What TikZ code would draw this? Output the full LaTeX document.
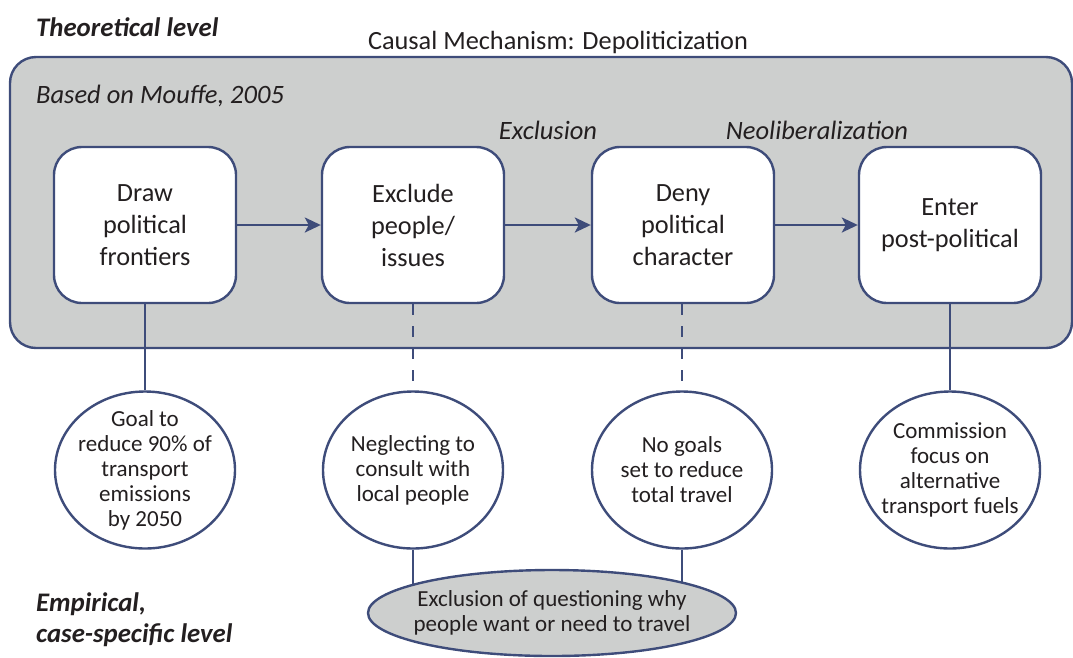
\documentclass[tikz,border=0pt]{standalone}
\usepackage{fontspec}
\setmainfont{Carlito}
\usetikzlibrary{shapes.geometric,arrows.meta}
\definecolor{navy}{RGB}{62,76,122}
\definecolor{panelgray}{RGB}{205,207,206}
\definecolor{ink}{RGB}{35,31,32}
\begin{document}
\begin{tikzpicture}[x=1pt,y=-1pt,
  every node/.style={text=ink},
  bigfont/.style={font=\fontsize{26.3}{32}\selectfont},
  smallfont/.style={font=\fontsize{23}{25}\selectfont},
  panelbox/.style={draw=navy,line width=2.4pt,fill=panelgray,rounded corners=26pt,minimum width=1062pt,minimum height=291pt,inner sep=0pt},
  stepbox/.style={draw=navy,line width=2.4pt,fill=white,rounded corners=28pt,minimum width=182pt,minimum height=156pt,align=center,inner sep=0pt,bigfont},
  casebubble/.style={ellipse,draw=navy,line width=2.4pt,fill=white,minimum width=180pt,minimum height=157pt,align=center,inner sep=-20pt,smallfont},
  sharedbubble/.style={ellipse,draw=navy,line width=2.4pt,fill=panelgray,minimum width=368pt,minimum height=86pt,align=center,inner xsep=-20pt,inner ysep=-5pt,font=\fontsize{23}{24.5}\selectfont},
  flow/.style={draw=navy,line width=2.4pt,-{Stealth[length=16pt,width=15pt,inset=4pt]}},
  link/.style={draw=navy,line width=2.4pt},
  dashlink/.style={draw=navy,line width=2.4pt,dash pattern=on 11pt off 11pt},
  levellabel/.style={anchor=west,inner sep=0pt,font=\fontsize{26.8}{31}\selectfont\bfseries\itshape,align=left},
  itlabel/.style={inner sep=0pt,font=\fontsize{26.5}{31}\selectfont\itshape}
]
\useasboundingbox (0,0) rectangle (1073,657);

\node[panelbox] (panel) at (541,202.5) {};

\node[levellabel] (theo) at (36,27) {Theoretical level};
\node[inner sep=0pt,bigfont] (title) at (558,42) {Causal Mechanism: Depoliticization};
\node[itlabel,anchor=west] (based) at (36,96) {Based on Mouffe, 2005};
\node[itlabel] (excl) at (548,130) {Exclusion};
\node[itlabel] (neo) at (817,130) {Neoliberalization};
\node[levellabel] (emp) at (36,620) {Empirical,\\case-specific level};

\node[stepbox] (b1) at (145,225) {Draw\\political\\frontiers};
\node[stepbox] (b2) at (413,225) {Exclude\\people/\\issues};
\node[stepbox] (b3) at (683,225) {Deny\\political\\character};
\node[stepbox] (b4) at (950,225) {Enter\\post-political};

\node[casebubble] (c1) at (145,470) {Goal to\\reduce 90\% of\\transport\\emissions\\by 2050};
\node[casebubble] (c2) at (413,470) {Neglecting to\\consult with\\local people};
\node[casebubble] (c3) at (682,470) {No goals\\set to reduce\\total travel};
\node[casebubble] (c4) at (950,470) {Commission\\focus on\\alternative\\transport fuels};

\node[sharedbubble] (e) at (552,613) {Exclusion of questioning why\\people want or need to travel};

\draw[flow] (b1) -- (b2);
\draw[flow] (b2) -- (b3);
\draw[flow] (b3) -- (b4);

\draw[link] (b1) -- (c1);
\draw[dashlink] (b2) -- (c2);
\draw[dashlink] (b3.south -| c3) -- (c3);
\draw[link] (b4) -- (c4);

\draw[link] (c2.south) -- (c2.south |- e.168.5);
\draw[link] (c3.south) -- (c3.south |- e.13.2);
\end{tikzpicture}
\end{document}
